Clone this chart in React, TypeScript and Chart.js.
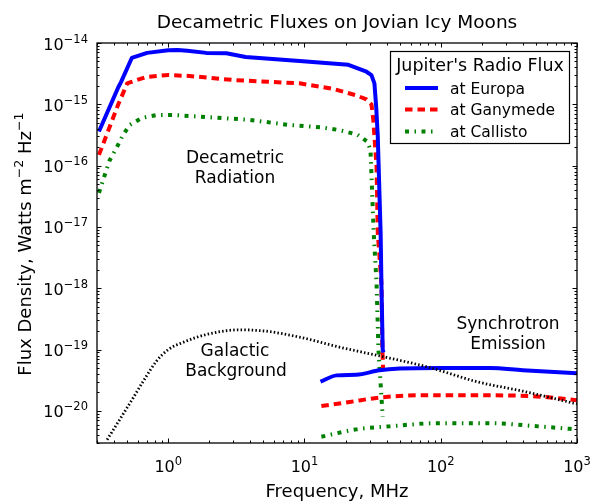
import React, { useEffect, useRef } from "react";
import { Chart, registerables } from "chart.js";

Chart.register(...registerables);

// ---- axis ranges & ticks ----
const X_MIN = 0.3;
const X_MAX = 1000;
const Y_MIN = 3e-21;
const Y_MAX = 1e-14;
const xTickExps = [0, 1, 2, 3];
const yTickExps = [-20, -19, -18, -17, -16, -15, -14];

// ---- texts ----
const titleText = "Decametric Fluxes on Jovian Icy Moons";
const xTitle = "Frequency, MHz";
const legendTitle = "Jupiter's Radio Flux";
const seriesNames = ["at Europa", "at Ganymede", "at Callisto"];

// ---- Decametric radiation (MHz, W m^-2 Hz^-1) ----
const europaDecFreq = [0.31, 0.43, 0.45, 0.54, 0.7, 1.0, 1.17, 1.38, 1.9, 2.67, 3.7, 9.2, 21, 28.5, 31, 32.6, 33.6, 34.5, 35, 36.2, 36.7, 37.5, 38];
const europaDecFlux = [3.6e-16, 1.9e-15, 2.3e-15, 5.7e-15, 6.9e-15, 7.6e-15, 7.7e-15, 7.5e-15, 6.9e-15, 6.8e-15, 5.9e-15, 5.1e-15, 4.4e-15, 3.4e-15, 3.0e-15, 2.2e-15, 9e-16, 3e-16, 1e-16, 8e-18, 1.2e-18, 1e-19, 9e-20];

const ganymedeDecFreq = [0.31, 0.43, 0.5, 0.53, 0.69, 1.0, 1.43, 2.95, 9.2, 16, 24, 28.5, 31, 32, 32.6, 33.8, 34.5, 36.7, 37.3, 37.8];
const ganymedeDecFlux = [1.5e-16, 1.0e-15, 2.2e-15, 2.3e-15, 2.8e-15, 3.0e-15, 2.9e-15, 2.5e-15, 2.2e-15, 1.8e-15, 1.4e-15, 1.2e-15, 1.0e-15, 5.6e-16, 3e-16, 9.5e-17, 8e-18, 1.2e-18, 1e-19, 4.7e-20];

const callistoDecFreq = [0.31, 0.37, 0.42, 0.46, 0.52, 0.64, 0.83, 1.1, 1.69, 3.9, 7.7, 13.5, 18, 24.5, 29, 30.5, 32.2, 33.8, 34.9, 37.5];
const callistoDecFlux = [3.6e-17, 1.2e-16, 2e-16, 3e-16, 4.6e-16, 6e-16, 6.7e-16, 6.7e-16, 6.3e-16, 5.6e-16, 4.6e-16, 4.2e-16, 3.8e-16, 3.2e-16, 2.45e-16, 1.8e-16, 8e-18, 1.2e-18, 1e-19, 8e-21];

// ---- Synchrotron emission ----
const europaSynFreq = [13.1, 17.2, 24, 35.5, 50, 98, 230, 400, 1000];
const europaSynFlux = [3e-20, 3.8e-20, 3.9e-20, 4.6e-20, 4.9e-20, 5e-20, 5e-20, 4.6e-20, 4.1e-20];

const ganymedeSynFreq = [13.3, 21.4, 35.5, 73, 172, 450, 1000];
const ganymedeSynFlux = [1.2e-20, 1.4e-20, 1.65e-20, 1.8e-20, 1.8e-20, 1.75e-20, 1.5e-20];

const callistoSynFreq = [13.3, 24, 42, 93, 230, 520, 1000];
const callistoSynFlux = [3.8e-21, 5e-21, 5.6e-21, 6.3e-21, 6.3e-21, 5.6e-21, 5e-21];

// ---- Galactic background ----
const galacticFreq = [0.356, 0.54, 0.67, 0.82, 1.0, 1.27, 1.9, 3.3, 5.2, 9.2, 18, 37.5, 83, 184, 400, 1000];
const galacticFlux = [3.4e-21, 1.5e-20, 3.3e-20, 6.5e-20, 1.0e-19, 1.3e-19, 1.76e-19, 2.1e-19, 2e-19, 1.6e-19, 1.1e-19, 7.7e-20, 5.1e-20, 3e-20, 2.1e-20, 1.3e-20];

// ---- styles ----
const BLUE = "#0000ff";
const RED = "#ff0000";
const GREEN = "#008000";
const FONT = '"DejaVu Sans", "Bitstream Vera Sans", sans-serif';
const DASH_RED = [7.5, 5];
const DASH_GREEN = [4, 5.5, 1.5, 5.5];
const DASH_BLACK = [1.5, 2.2];

function pts(f: number[], v: number[]) {
  return f.map((x, i) => ({ x, y: v[i] }));
}

function supStr(e: number) {
  return e < 0 ? "\u2212" + Math.abs(e) : String(e);
}

type Seg = { t: string; size: number; sup?: boolean };

function drawSegs(ctx: CanvasRenderingContext2D, segs: Seg[], x: number, y: number, align: "left" | "center" | "right", raise: number) {
  const widths = segs.map((s) => {
    ctx.font = `${s.size}px ${FONT}`;
    return ctx.measureText(s.t).width;
  });
  const total = widths.reduce((a, b) => a + b, 0);
  let cx = align === "left" ? x : align === "center" ? x - total / 2 : x - total;
  ctx.textAlign = "left";
  ctx.textBaseline = "alphabetic";
  segs.forEach((s, i) => {
    ctx.font = `${s.size}px ${FONT}`;
    ctx.fillText(s.t, cx, s.sup ? y - raise : y);
    cx += widths[i];
  });
}

function drawPow(ctx: CanvasRenderingContext2D, e: number, x: number, y: number, align: "center" | "right") {
  drawSegs(ctx, [{ t: "10", size: 16 }, { t: supStr(e), size: 11.5, sup: true }], x, y, align, 7);
}

function logTicks(min: number, max: number) {
  const out: { v: number; major: boolean }[] = [];
  for (let k = Math.floor(Math.log10(min)); k <= Math.ceil(Math.log10(max)); k++) {
    for (let m = 1; m <= 9; m++) {
      const v = m * Math.pow(10, k);
      if (v >= min * 0.9999 && v <= max * 1.0001) out.push({ v, major: m === 1 });
    }
  }
  return out;
}

const decorPlugin = {
  id: "decor",
  beforeDraw(chart: any) {
    const ctx = chart.ctx;
    ctx.save();
    ctx.fillStyle = "#ffffff";
    ctx.fillRect(0, 0, chart.width, chart.height);
    ctx.restore();
  },
  afterDraw(chart: any) {
    const ctx: CanvasRenderingContext2D = chart.ctx;
    const a = chart.chartArea;
    const xs = chart.scales.x;
    const ys = chart.scales.y;
    ctx.save();
    ctx.fillStyle = "#000";
    ctx.strokeStyle = "#000";

    // ticks (inward, all four sides)
    ctx.lineWidth = 1;
    ctx.beginPath();
    logTicks(X_MIN, X_MAX).forEach(({ v, major }) => {
      const px = Math.round(xs.getPixelForValue(v)) + 0.5;
      const len = major ? 4.5 : 2.5;
      ctx.moveTo(px, a.bottom);
      ctx.lineTo(px, a.bottom - len);
      ctx.moveTo(px, a.top);
      ctx.lineTo(px, a.top + len);
    });
    logTicks(Y_MIN, Y_MAX).forEach(({ v, major }) => {
      const py = Math.round(ys.getPixelForValue(v)) + 0.5;
      const len = major ? 4.5 : 2.5;
      ctx.moveTo(a.left, py);
      ctx.lineTo(a.left + len, py);
      ctx.moveTo(a.right, py);
      ctx.lineTo(a.right - len, py);
    });
    ctx.stroke();

    // frame
    ctx.lineWidth = 1.3;
    ctx.strokeRect(a.left, a.top, a.right - a.left, a.bottom - a.top);

    // tick labels
    xTickExps.forEach((e) => {
      const px = xs.getPixelForValue(Math.pow(10, e));
      drawPow(ctx, e, px, a.bottom + 29, "center");
    });
    yTickExps.forEach((e) => {
      const py = ys.getPixelForValue(Math.pow(10, e));
      drawPow(ctx, e, a.left - 9, py + 6.5, "right");
    });

    // title
    ctx.font = `18.5px ${FONT}`;
    ctx.textAlign = "center";
    ctx.textBaseline = "alphabetic";
    ctx.fillText(titleText, (a.left + a.right) / 2, 28);

    // x title
    ctx.font = `18px ${FONT}`;
    ctx.fillText(xTitle, (a.left + a.right) / 2, 497);

    // y title
    ctx.save();
    ctx.translate(31, (a.top + a.bottom) / 2 + 1);
    ctx.rotate(-Math.PI / 2);
    drawSegs(
      ctx,
      [
        { t: "Flux Density, Watts m", size: 18 },
        { t: "\u22122", size: 12.6, sup: true },
        { t: " Hz", size: 18 },
        { t: "\u22121", size: 12.6, sup: true },
      ],
      0,
      0,
      "center",
      8
    );
    ctx.restore();

    // annotations
    ctx.font = `17px ${FONT}`;
    ctx.textAlign = "center";
    ctx.fillText("Decametric", 235, 163);
    ctx.fillText("Radiation", 235, 183);
    ctx.fillText("Galactic", 235, 356);
    ctx.fillText("Background", 236, 376);
    ctx.fillText("Synchrotron", 508, 329);
    ctx.fillText("Emission", 508, 349);

    // legend
    const lx = 390.5, ly = 51.5, lw = 179, lh = 92;
    ctx.fillStyle = "#fff";
    ctx.fillRect(lx, ly, lw, lh);
    ctx.lineWidth = 1.2;
    ctx.strokeStyle = "#000";
    ctx.strokeRect(lx, ly, lw, lh);
    ctx.fillStyle = "#000";
    ctx.font = `17.5px ${FONT}`;
    ctx.textAlign = "center";
    ctx.fillText(legendTitle, lx + lw / 2, 71);
    const colors = [BLUE, RED, GREEN];
    const dashes = [[], DASH_RED, DASH_GREEN];
    const rowsY = [88, 109.5, 131.5];
    ctx.textAlign = "left";
    ctx.font = `15.5px ${FONT}`;
    rowsY.forEach((ry, i) => {
      ctx.save();
      ctx.strokeStyle = colors[i];
      ctx.lineWidth = 4;
      ctx.setLineDash(dashes[i]);
      ctx.lineCap = "butt";
      ctx.beginPath();
      ctx.moveTo(405, ry);
      ctx.lineTo(438, ry);
      ctx.stroke();
      ctx.restore();
      ctx.fillStyle = "#000";
      ctx.fillText(seriesNames[i], 450, ry + 5.5);
    });

    ctx.restore();
  },
};

function ds(data: any[], color: string, dash: number[], width: number, smooth: boolean) {
  return {
    data,
    showLine: true,
    borderColor: color,
    backgroundColor: color,
    borderWidth: width,
    borderDash: dash,
    borderCapStyle: "butt",
    borderJoinStyle: "round",
    pointRadius: 0,
    pointHoverRadius: 0,
    fill: false,
    tension: 0,
    cubicInterpolationMode: smooth ? "monotone" : "default",
  };
}

export default function App() {
  const ref = useRef<HTMLCanvasElement | null>(null);
  useEffect(() => {
    if (!ref.current) return;
    const chart = new Chart(ref.current, {
      type: "scatter",
      data: {
        datasets: [
          ds(pts(galacticFreq, galacticFlux), "#000000", DASH_BLACK, 2.8, true),
          ds(pts(callistoSynFreq, callistoSynFlux), GREEN, DASH_GREEN, 4, true),
          ds(pts(ganymedeSynFreq, ganymedeSynFlux), RED, DASH_RED, 4, true),
          ds(pts(europaSynFreq, europaSynFlux), BLUE, [], 4, true),
          ds(pts(europaDecFreq, europaDecFlux), BLUE, [], 4, false),
          ds(pts(ganymedeDecFreq, ganymedeDecFlux), RED, DASH_RED, 4, false),
          ds(pts(callistoDecFreq, callistoDecFlux), GREEN, DASH_GREEN, 4, false),
        ] as any,
      },
      options: {
        responsive: false,
        animation: false,
        devicePixelRatio: 1,
        events: [],
        layout: { padding: { left: 97, top: 43, right: 18, bottom: 59 } },
        plugins: {
          legend: { display: false },
          tooltip: { enabled: false },
          title: { display: false },
        },
        scales: {
          x: { type: "logarithmic", min: X_MIN, max: X_MAX, display: false, bounds: "data" },
          y: { type: "logarithmic", min: Y_MIN, max: Y_MAX, display: false, bounds: "data" },
        },
      } as any,
      plugins: [decorPlugin],
    });
    return () => chart.destroy();
  }, []);
  return (
    <div style={{ position: "absolute", left: 0, top: 0, width: 595, height: 502, background: "#fff" }}>
      <canvas ref={ref} width={595} height={502} style={{ display: "block", width: 595, height: 502 }} />
    </div>
  );
}
